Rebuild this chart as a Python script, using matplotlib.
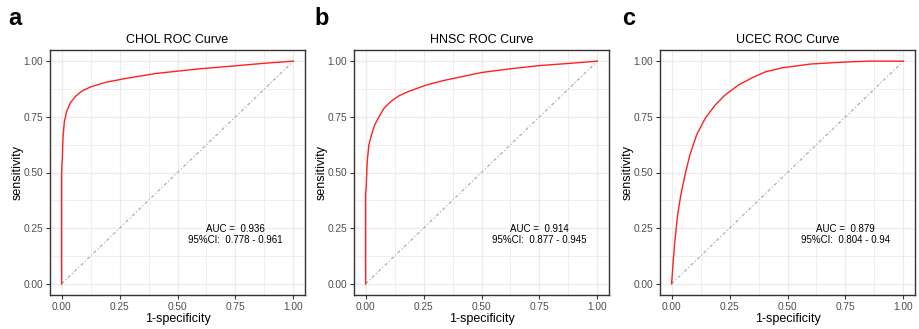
import matplotlib
matplotlib.use("Agg")
import matplotlib.pyplot as plt
import numpy as np

plt.rcParams["font.family"] = ["Liberation Sans", "DejaVu Sans"]

titles = ["CHOL ROC Curve", "HNSC ROC Curve", "UCEC ROC Curve"]
panel_tags = ["a", "b", "c"]
auc = ["0.936", "0.914", "0.879"]
ci = ["0.778 - 0.961", "0.877 - 0.945", "0.804 - 0.94"]

chol_fpr = [0, 0, 0.003, 0.006, 0.012, 0.022, 0.037, 0.059, 0.088, 0.125, 0.191, 0.265,
            0.338, 0.41, 0.5, 0.6, 0.74, 0.87, 1.0]
chol_tpr = [0, 0.5, 0.56, 0.655, 0.729, 0.774, 0.811, 0.841, 0.866, 0.884, 0.905, 0.92,
            0.933, 0.945, 0.955, 0.966, 0.978, 0.99, 1.0]

hnsc_fpr = [0, 0, 0.003, 0.007, 0.014, 0.025, 0.039, 0.058, 0.079, 0.108, 0.145, 0.188,
            0.26, 0.332, 0.405, 0.5, 0.62, 0.75, 0.88, 1.0]
hnsc_tpr = [0, 0.4, 0.444, 0.549, 0.623, 0.668, 0.713, 0.75, 0.788, 0.818, 0.845, 0.865,
            0.892, 0.912, 0.928, 0.949, 0.965, 0.98, 0.99, 1.0]

ucec_fpr = [0, 0.007, 0.014, 0.026, 0.04, 0.058, 0.079, 0.108, 0.145, 0.188, 0.231, 0.289,
            0.347, 0.405, 0.477, 0.535, 0.6, 0.75, 0.85, 1.0]
ucec_tpr = [0, 0.101, 0.191, 0.31, 0.4, 0.49, 0.579, 0.669, 0.743, 0.803, 0.848, 0.893,
            0.925, 0.952, 0.97, 0.978, 0.987, 0.996, 1.0, 1.0]

curves = [(chol_fpr, chol_tpr), (hnsc_fpr, hnsc_tpr), (ucec_fpr, ucec_tpr)]
ticks = [0, 0.25, 0.5, 0.75, 1.0]
tick_labels = ["0.00", "0.25", "0.50", "0.75", "1.00"]
minor = [0.125, 0.375, 0.625, 0.875]

fig = plt.figure(figsize=(9.19, 3.29), dpi=100)
lefts = [50 / 919, 354 / 919, 660 / 919]
tag_x = [8 / 919, 314 / 919, 622 / 919]

for i, (fpr, tpr) in enumerate(curves):
    ax = fig.add_axes([lefts[i], 1 - 295 / 329, 255 / 919, 245 / 329])
    ax.set_xlim(-0.05, 1.05)
    ax.set_ylim(-0.05, 1.05)

    for v in ticks:
        ax.axvline(v, color="#ebebeb", lw=0.9, zorder=0)
        ax.axhline(v, color="#ebebeb", lw=0.9, zorder=0)
    for v in minor:
        ax.axvline(v, color="#ebebeb", lw=0.6, zorder=0)
        ax.axhline(v, color="#ebebeb", lw=0.6, zorder=0)

    ax.plot([0, 1], [0, 1], color="#a6a6a6", lw=0.8, ls=(0, (3, 2, 1, 2)), zorder=1)
    ax.plot(fpr, tpr, color="#ff2020", lw=1.0, zorder=2)

    ax.text(0.75, 0.222, f"AUC =  {auc[i]}\n95%CI:  {ci[i]}", ha="center", va="center",
            fontsize=7, linespacing=1.05, color="black")

    ax.set_xticks(ticks)
    ax.set_yticks(ticks)
    ax.set_xticklabels(tick_labels)
    ax.set_yticklabels(tick_labels)
    ax.tick_params(length=3, width=0.8, color="#333333", labelcolor="#4d4d4d", labelsize=7.3, pad=2)
    for s in ax.spines.values():
        s.set_color("#333333")
        s.set_linewidth(1.0)

    ax.set_xlabel("1-specificity", fontsize=9, labelpad=1)
    ax.set_ylabel("sensitivity", fontsize=9, labelpad=0)
    ax.set_title(titles[i], fontsize=9, pad=5)

    fig.text(tag_x[i], 1 - 25 / 329, panel_tags[i], fontsize=17, fontweight="bold", ha="left", va="baseline")

fig.savefig("out.png", dpi=100)
